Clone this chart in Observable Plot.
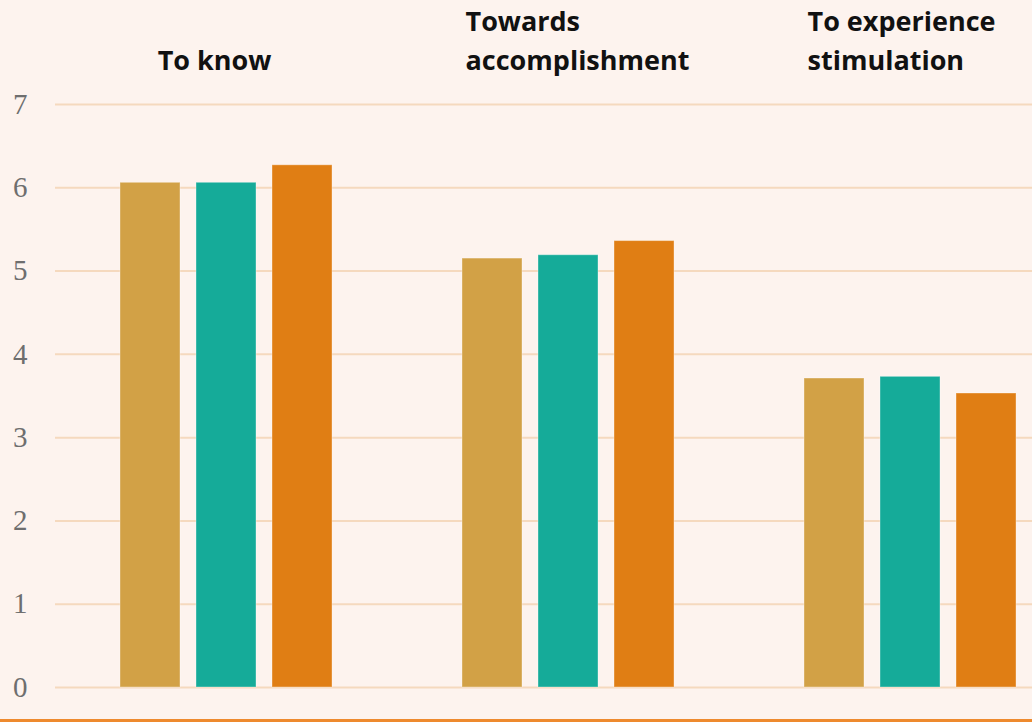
<!DOCTYPE html>
<html>
<head>
<meta charset="utf-8">
<script src="https://cdn.jsdelivr.net/npm/d3@7"></script>
<script src="https://cdn.jsdelivr.net/npm/@observablehq/plot@0.6"></script>
<style>
  html, body { margin: 0; padding: 0; background: #FDF3EE; overflow: hidden; }
  #chart { width: 1032px; height: 719px; border-bottom: 3px solid #EE8A2E; }
</style>
</head>
<body>
<div id="chart"></div>
<script>
const groups = ["To know", "Towards\naccomplishment", "To experience\nstimulation"];
const seriesNames = ["Series 1", "Series 2", "Series 3"];
const series1 = [6.06, 5.15, 3.71];
const series2 = [6.06, 5.19, 3.73];
const series3 = [6.27, 5.36, 3.53];
const yTicks = [0, 1, 2, 3, 4, 5, 6, 7];
const colors = ["#D2A146", "#15AB99", "#E07E14"];

const seriesValues = [series1, series2, series3];
const rows = [];
groups.forEach((g, gi) => {
  seriesNames.forEach((s, si) => rows.push({group: g, series: s, value: seriesValues[si][gi]}));
});

const chart = Plot.plot({
  width: 1032,
  height: 719,
  marginLeft: 55,
  marginRight: 0,
  marginTop: 104,
  marginBottom: 32,
  style: {background: "transparent"},
  fx: {domain: groups, range: [54.5, 1080.5], padding: 0, axis: null, label: null},
  x: {domain: seriesNames, paddingInner: 0.2105, paddingOuter: 0.855, round: false, axis: null},
  y: {domain: [0, 7], axis: null},
  color: {domain: seriesNames, range: colors},
  marks: [
    Plot.ruleY(yTicks, {stroke: "#F5D9BE", strokeWidth: 2}),
    Plot.axisY(yTicks, {
      tickSize: 0, tickPadding: 28, label: null, tickFormat: d => String(d),
      fontSize: 29, fontFamily: "'Liberation Serif', 'DejaVu Serif', serif",
      fill: "#6E6E6E", facetAnchor: "left"
    }),
    Plot.barY(rows, {
      fx: "group", x: "series", y: "value", fill: "series",
      stroke: "#ffffff", strokeOpacity: 0.35, strokeWidth: 1
    }),
    Plot.text(groups.filter(g => !g.includes("\n")), {
      fx: d => d, text: d => d, frameAnchor: "top", textAnchor: "middle",
      lineAnchor: "bottom", dx: -12, dy: -35,
      fontSize: 27, fontWeight: 700, fontFamily: "'Open Sans', 'Noto Sans', sans-serif", fill: "#111"
    }),
    Plot.text(groups.filter(g => g.includes("\n")), {
      fx: d => d, text: d => d, frameAnchor: "top-left", textAnchor: "start",
      lineAnchor: "bottom", lineHeight: 1.44, dx: 68, dy: -35,
      fontSize: 27, fontWeight: 700, fontFamily: "'Open Sans', 'Noto Sans', sans-serif", fill: "#111"
    })
  ]
});
document.getElementById("chart").appendChild(chart);
</script>
</body>
</html>
